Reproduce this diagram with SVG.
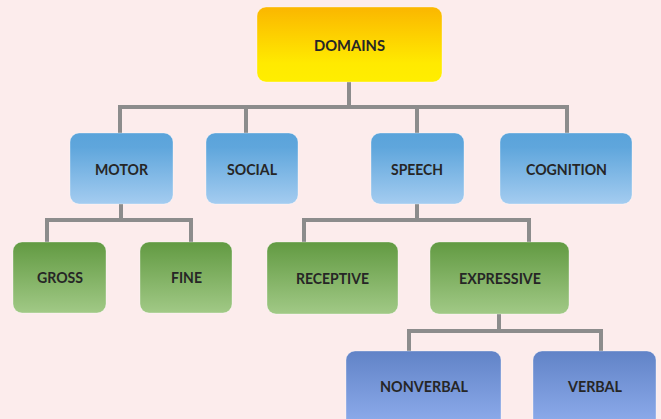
<svg xmlns="http://www.w3.org/2000/svg" width="661" height="419" viewBox="0 0 661 419">
<defs>
<linearGradient id="gY" x1="0" y1="0" x2="0" y2="1"><stop offset="0" stop-color="#FBB600"/><stop offset="0.75" stop-color="#FFEA00"/><stop offset="1" stop-color="#FFEE00"/></linearGradient>
<linearGradient id="gB" x1="0" y1="0" x2="0" y2="1"><stop offset="0" stop-color="#5AA3DA"/><stop offset="0.2" stop-color="#5FA6DC"/><stop offset="1" stop-color="#A4CCF0"/></linearGradient>
<linearGradient id="gG" x1="0" y1="0" x2="0" y2="1"><stop offset="0" stop-color="#629A42"/><stop offset="1" stop-color="#A1C986"/></linearGradient>
<linearGradient id="gD" x1="0" y1="0" x2="0" y2="1"><stop offset="0" stop-color="#6183C7"/><stop offset="1" stop-color="#90AEEE"/></linearGradient>
</defs>
<style>
.box{stroke:#ffffff;stroke-opacity:0.35;stroke-width:1}
.t{font-family:Lato,"Liberation Sans",sans-serif;font-weight:700;font-size:16px;fill:#262626;text-anchor:middle}
.c{fill:none;stroke:#8C8C8C;stroke-width:4}
</style>
<rect width="661" height="419" fill="#FCECEC"/>
<g id="connectors">
<path class="c" d="M349,82 V107 M120,107 H568 M120,105 V133 M246,105 V133 M417,105 V133 M567,105 V133"/>
<path class="c" d="M121,204 V220 M47,220 H193 M47,218 V242 M191,218 V242"/>
<path class="c" d="M417,204 V220 M304,220 H531 M304,218 V242 M529,218 V242"/>
<path class="c" d="M499,314 V331 M409,331 H603 M409,329 V351 M601,329 V351"/>
</g>
<g id="domains"><rect class="box" x="257" y="7" width="185" height="75" rx="9" fill="url(#gY)"/><text class="t" x="349.5" y="51" textLength="71" lengthAdjust="spacingAndGlyphs">DOMAINS</text></g>
<g id="motor"><rect class="box" x="70" y="133" width="103" height="71" rx="9" fill="url(#gB)"/><text class="t" x="121.5" y="175" textLength="53" lengthAdjust="spacingAndGlyphs">MOTOR</text></g>
<g id="social"><rect class="box" x="206" y="133" width="92" height="71" rx="9" fill="url(#gB)"/><text class="t" x="252" y="175" textLength="50" lengthAdjust="spacingAndGlyphs">SOCIAL</text></g>
<g id="speech"><rect class="box" x="371" y="133" width="93" height="71" rx="9" fill="url(#gB)"/><text class="t" x="417" y="175" textLength="52" lengthAdjust="spacingAndGlyphs">SPEECH</text></g>
<g id="cognition"><rect class="box" x="500" y="133" width="132" height="71" rx="9" fill="url(#gB)"/><text class="t" x="566.5" y="175" textLength="81" lengthAdjust="spacingAndGlyphs">COGNITION</text></g>
<g id="gross"><rect class="box" x="13" y="242" width="93" height="71" rx="9" fill="url(#gG)"/><text class="t" x="60" y="283" textLength="46" lengthAdjust="spacingAndGlyphs">GROSS</text></g>
<g id="fine"><rect class="box" x="140" y="242" width="92" height="71" rx="9" fill="url(#gG)"/><text class="t" x="186.5" y="283" textLength="31" lengthAdjust="spacingAndGlyphs">FINE</text></g>
<g id="receptive"><rect class="box" x="267" y="242" width="131" height="72" rx="9" fill="url(#gG)"/><text class="t" x="332.5" y="284" textLength="73" lengthAdjust="spacingAndGlyphs">RECEPTIVE</text></g>
<g id="expressive"><rect class="box" x="430" y="242" width="139" height="72" rx="9" fill="url(#gG)"/><text class="t" x="500" y="284" textLength="82" lengthAdjust="spacingAndGlyphs">EXPRESSIVE</text></g>
<g id="nonverbal"><rect class="box" x="346" y="351" width="155" height="78" rx="9" fill="url(#gD)"/><text class="t" x="424" y="392" textLength="88" lengthAdjust="spacingAndGlyphs">NONVERBAL</text></g>
<g id="verbal"><rect class="box" x="533" y="351" width="123" height="78" rx="9" fill="url(#gD)"/><text class="t" x="595" y="392" textLength="54" lengthAdjust="spacingAndGlyphs">VERBAL</text></g>
</svg>
